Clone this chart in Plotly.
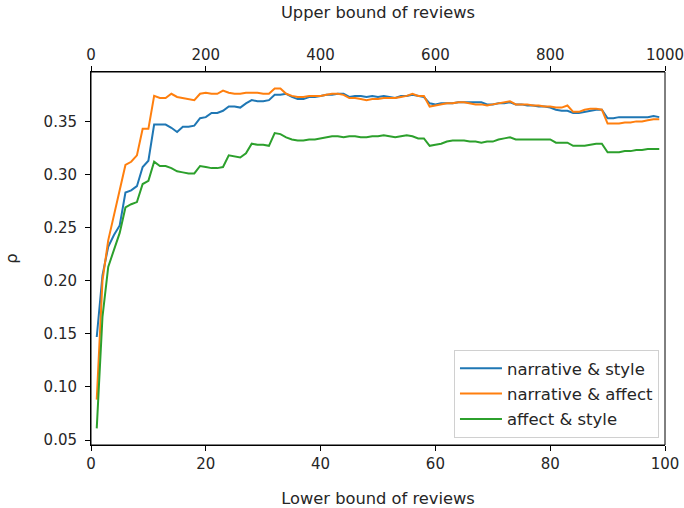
import plotly.graph_objects as go

# Lower bound of reviews (x) and correlation rho for each pair of measures
lower_bound = list(range(1, 100))

narrative_style = [
    0.147, 0.205, 0.232, 0.243, 0.252, 0.283, 0.285, 0.289, 0.307, 0.313,
    0.347, 0.347, 0.347, 0.344, 0.340, 0.345, 0.345, 0.346, 0.353, 0.354,
    0.358, 0.358, 0.360, 0.364, 0.364, 0.363, 0.367, 0.370, 0.369, 0.369,
    0.370, 0.375, 0.375, 0.376, 0.373, 0.371, 0.371, 0.373, 0.373, 0.374,
    0.375, 0.375, 0.376, 0.376, 0.373, 0.374, 0.374, 0.373, 0.374, 0.373,
    0.374, 0.373, 0.372, 0.374, 0.374, 0.375, 0.374, 0.373, 0.367, 0.366,
    0.367, 0.367, 0.367, 0.368, 0.368, 0.368, 0.368, 0.368, 0.366, 0.366,
    0.367, 0.367, 0.368, 0.366, 0.366, 0.365, 0.365, 0.364, 0.364, 0.363,
    0.361, 0.360, 0.360, 0.358, 0.358, 0.359, 0.360, 0.361, 0.361, 0.353,
    0.353, 0.354, 0.354, 0.354, 0.354, 0.354, 0.354, 0.355, 0.354,
]

narrative_affect = [
    0.088, 0.200, 0.238, 0.262, 0.283, 0.309, 0.312, 0.318, 0.343, 0.343,
    0.374, 0.372, 0.372, 0.376, 0.373, 0.372, 0.371, 0.370, 0.376, 0.377,
    0.376, 0.376, 0.379, 0.377, 0.376, 0.376, 0.377, 0.377, 0.377, 0.376,
    0.376, 0.381, 0.381, 0.376, 0.374, 0.373, 0.373, 0.374, 0.374, 0.374,
    0.375, 0.376, 0.376, 0.375, 0.372, 0.372, 0.371, 0.370, 0.371, 0.371,
    0.372, 0.372, 0.372, 0.373, 0.374, 0.376, 0.374, 0.374, 0.364, 0.365,
    0.366, 0.367, 0.367, 0.368, 0.368, 0.367, 0.366, 0.366, 0.365, 0.366,
    0.367, 0.368, 0.369, 0.366, 0.366, 0.366, 0.365, 0.365, 0.364, 0.364,
    0.363, 0.363, 0.365, 0.359, 0.359, 0.361, 0.362, 0.362, 0.361, 0.348,
    0.348, 0.348, 0.349, 0.349, 0.350, 0.350, 0.351, 0.352, 0.352,
]

affect_style = [
    0.061, 0.166, 0.213, 0.228, 0.245, 0.269, 0.272, 0.274, 0.291, 0.294,
    0.312, 0.308, 0.308, 0.306, 0.303, 0.302, 0.301, 0.301, 0.308, 0.307,
    0.306, 0.306, 0.307, 0.318, 0.317, 0.316, 0.320, 0.329, 0.328, 0.328,
    0.327, 0.339, 0.338, 0.335, 0.333, 0.332, 0.332, 0.333, 0.333, 0.334,
    0.335, 0.336, 0.336, 0.335, 0.336, 0.336, 0.335, 0.335, 0.336, 0.336,
    0.337, 0.336, 0.335, 0.336, 0.337, 0.336, 0.334, 0.334, 0.327, 0.328,
    0.329, 0.331, 0.332, 0.332, 0.332, 0.331, 0.331, 0.330, 0.331, 0.331,
    0.333, 0.334, 0.335, 0.333, 0.333, 0.333, 0.333, 0.333, 0.333, 0.333,
    0.330, 0.330, 0.330, 0.327, 0.327, 0.327, 0.328, 0.329, 0.329, 0.321,
    0.321, 0.321, 0.322, 0.322, 0.323, 0.323, 0.324, 0.324, 0.324,
]

series_names = ["narrative & style", "narrative & affect", "affect & style"]
series_values = [narrative_style, narrative_affect, affect_style]
series_colors = ["#1f77b4", "#ff7f0e", "#2ca02c"]

# the upper bound is ten times the lower bound
upper_scale = 10

lower_ticks = [0, 20, 40, 60, 80, 100]
upper_ticks = [0, 200, 400, 600, 800, 1000]
rho_ticks = [0.05, 0.10, 0.15, 0.20, 0.25, 0.30, 0.35]

FONT = "DejaVu Sans"
TEXT = "#262626"

fig = go.Figure()
for i, (name, vals, col) in enumerate(zip(series_names, series_values, series_colors)):
    fig.add_trace(go.Scatter(
        x=lower_bound, y=vals, mode="lines", name=name,
        legendgroup=f"g{i}",
        line=dict(color=col, width=2),
    ))

# transparent copy on the top axis so the upper-bound scale is drawn
fig.add_trace(go.Scatter(
    x=[v * upper_scale for v in lower_bound], y=narrative_style,
    xaxis="x2", mode="lines", line=dict(width=0), opacity=0,
    showlegend=False, hoverinfo="skip",
))

axis_common = dict(
    showline=True, linecolor="black", linewidth=1,
    ticks="outside", ticklen=5, tickwidth=1, tickcolor="black",
    showgrid=False, zeroline=False, automargin=False,
    ticklabeloverflow="allow",
    tickfont=dict(family=FONT, size=15, color=TEXT),
)
title_font = dict(family=FONT, size=16.3, color=TEXT)

fig.update_layout(
    width=684, height=508,
    paper_bgcolor="white", plot_bgcolor="white",
    margin=dict(l=91, r=19, t=72, b=63),
    font=dict(family=FONT, size=15, color=TEXT),
    xaxis=dict(
        range=[0, 100], tickvals=lower_ticks,
        title=dict(text="Lower bound of reviews", standoff=20, font=title_font),
        **axis_common,
    ),
    xaxis2=dict(
        range=[0, 1000], tickvals=upper_ticks, overlaying="x", side="top",
        title=dict(text="Upper bound of reviews", standoff=23, font=title_font),
        **axis_common,
    ),
    yaxis=dict(
        range=[0.0453, 0.3965], tickvals=rho_ticks,
        tickformat=".2f", ticklabelstandoff=5,
        title=dict(text="ρ", standoff=21, font=title_font),
        **axis_common,
    ),
    legend=dict(
        x=0.9895, y=0.019, xanchor="right", yanchor="bottom",
        bgcolor="rgba(255,255,255,0.8)", bordercolor="#d0d0d0", borderwidth=1,
        font=dict(family=FONT, size=16.5, color=TEXT),
        tracegroupgap=1, itemwidth=42,
    ),
    shapes=[dict(
        type="rect", xref="paper", yref="paper", x0=0, y0=0, x1=1, y1=1,
        line=dict(color="black", width=1), fillcolor="rgba(0,0,0,0)",
        layer="above",
    )],
    showlegend=True,
)

fig.write_html("out.html")
